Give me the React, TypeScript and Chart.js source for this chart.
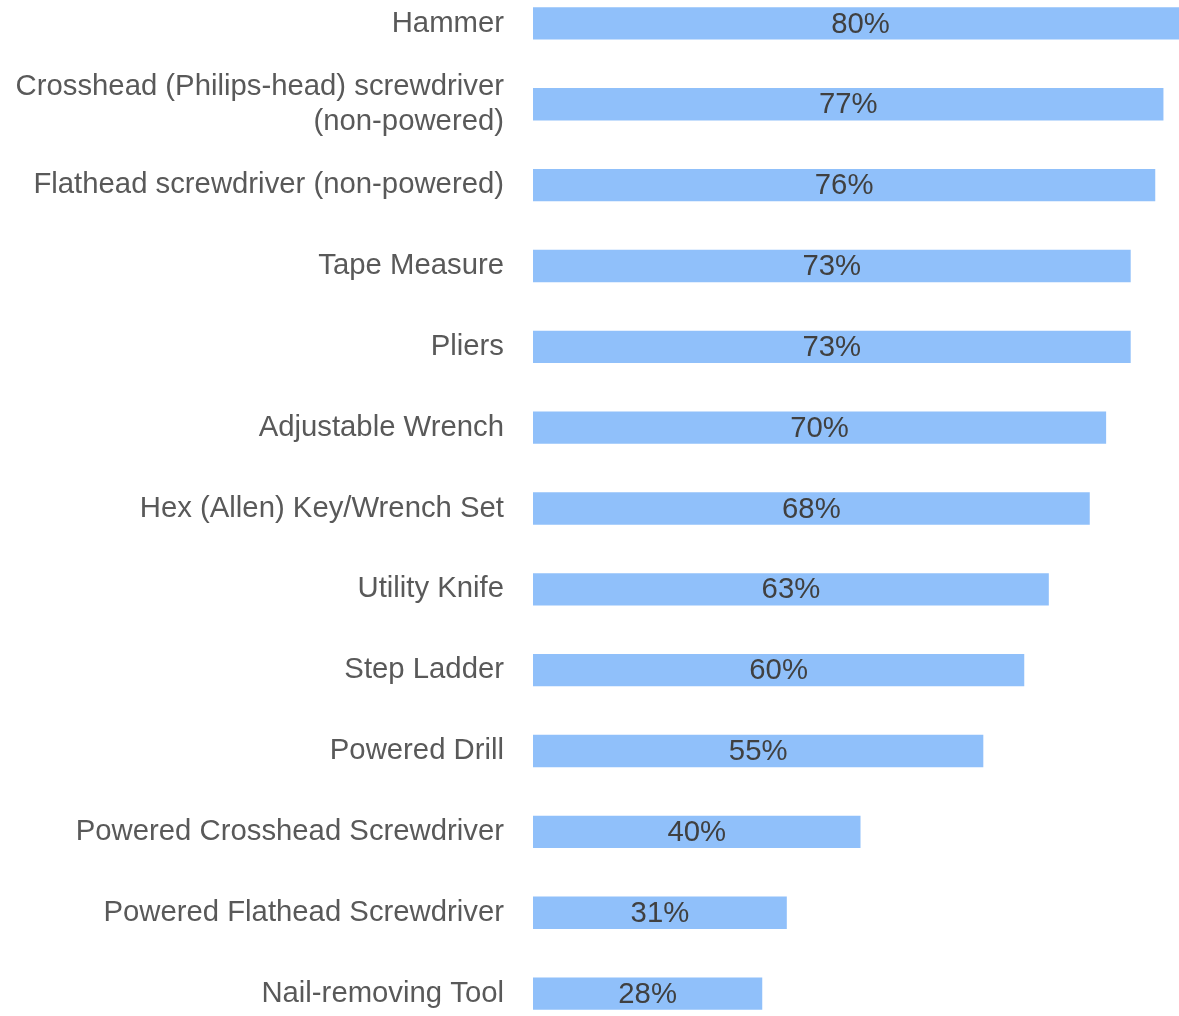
import React, { useEffect, useRef } from "react";
import { Chart, registerables } from "chart.js";

Chart.register(...registerables);

const categories: (string | string[])[] = [
  "Hammer",
  ["Crosshead (Philips-head) screwdriver", "(non-powered)"],
  "Flathead screwdriver (non-powered)",
  "Tape Measure",
  "Pliers",
  "Adjustable Wrench",
  "Hex (Allen) Key/Wrench Set",
  "Utility Knife",
  "Step Ladder",
  "Powered Drill",
  "Powered Crosshead Screwdriver",
  "Powered Flathead Screwdriver",
  "Nail-removing Tool",
];

const values: number[] = [80, 77, 76, 73, 73, 70, 68, 63, 60, 55, 40, 31, 28];

const FONT = "Arial, 'Liberation Sans', sans-serif";

const valueLabels = {
  id: "valueLabels",
  afterDatasetsDraw(chart: any) {
    const ctx = chart.ctx;
    const meta = chart.getDatasetMeta(0);
    ctx.save();
    ctx.font = `29.3px ${FONT}`;
    ctx.fillStyle = "#404040";
    ctx.textAlign = "center";
    ctx.textBaseline = "middle";
    meta.data.forEach((el: any, i: number) => {
      const cx = (el.base + el.x) / 2;
      ctx.fillText(`${values[i]}%`, cx, el.y + 1);
    });
    ctx.restore();
  },
};

export default function App() {
  const ref = useRef<HTMLCanvasElement>(null);
  useEffect(() => {
    document.body.style.margin = "0";
    document.body.style.overflow = "hidden";
    const chart = new Chart(ref.current!, {
      type: "bar",
      data: {
        labels: categories,
        datasets: [
          {
            data: values,
            backgroundColor: "#90C0FA",
            barPercentage: 0.4,
            categoryPercentage: 1,
          },
        ],
      },
      options: {
        indexAxis: "y",
        animation: false,
        responsive: false,
        maintainAspectRatio: false,
        layout: { padding: 0 },
        plugins: { legend: { display: false }, tooltip: { enabled: false } },
        scales: {
          x: { display: false, min: 0, max: 78.9 },
          y: {
            grid: { display: false, drawTicks: false },
            border: { display: false },
            ticks: {
              padding: 29,
              color: "#595959",
              font: { family: FONT, size: 29.3, lineHeight: 1.2 },
            },
            afterFit(scale: any) {
              scale.width = 533;
              scale.paddingTop = 0;
              scale.paddingBottom = 0;
            },
          },
        },
      },
      plugins: [valueLabels],
    });
    return () => chart.destroy();
  }, []);
  return (
    <div style={{ position: "absolute", left: 0, top: -17, width: 1179, height: 1051 }}>
      <canvas ref={ref} width={1179} height={1051} style={{ width: 1179, height: 1051, display: "block" }} />
    </div>
  );
}
